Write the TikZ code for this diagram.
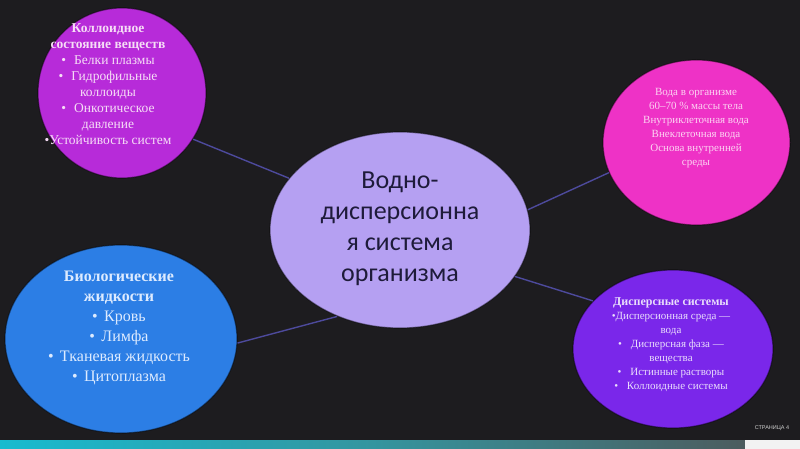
\documentclass[tikz,border=0pt]{standalone}
\usepackage{fontspec}
\setmainfont{Liberation Serif}
\newfontfamily\centerfont{Carlito}
\newfontfamily\pagefont{Liberation Sans}
\usetikzlibrary{shapes.geometric}
\definecolor{bgc}{HTML}{1D1C1F}
\definecolor{tlc}{HTML}{B72BD9}
\definecolor{cc}{HTML}{B5A0F2}
\definecolor{trc}{HTML}{EE32C6}
\definecolor{brc}{HTML}{7A27EA}
\definecolor{blc}{HTML}{2C7EE5}
\definecolor{linkc}{HTML}{4D4A9C}
\definecolor{tltext}{HTML}{F6DDF6}
\definecolor{trtext}{HTML}{FCD3F2}
\definecolor{brtext}{HTML}{E9DDFB}
\definecolor{bltext}{HTML}{DDEBFF}
\definecolor{ctext}{HTML}{1E1B3A}
\definecolor{barl}{HTML}{18BBCF}
\definecolor{barm}{HTML}{34959F}
\definecolor{barr}{HTML}{4C5C5E}
\definecolor{barw}{HTML}{F2F2F2}
\definecolor{pagec}{HTML}{D0D0D0}
\tikzset{
  blob/.style={ellipse, inner sep=0pt, draw=black, draw opacity=0.45, line width=1.2pt},
  link/.style={draw=linkc, line width=1.4pt},
  blobtext/.style={align=center, inner sep=0pt},
}
\begin{document}
\begin{tikzpicture}[x=1pt,y=-1pt]
\fill[bgc] (0,0) rectangle (800,449);
\useasboundingbox (0,0) rectangle (800,449);
% bottom bar
\shade[left color=barl, right color=barr, middle color=barm] (0,440) rectangle (745,449);
\fill[barw] (745,440) rectangle (800,449);
% ellipses
\node[blob, fill=tlc, minimum width=168pt, minimum height=170pt] (tl) at (122,93) {};
\node[blob, fill=trc, minimum width=187pt, minimum height=165pt] (tr) at (696.5,142.5) {};
\node[blob, fill=brc, minimum width=200pt, minimum height=158pt] (br) at (673,349) {};
\node[blob, fill=blc, minimum width=232pt, minimum height=188pt] (bl) at (121,339) {};
\node[blob, fill=cc, minimum width=260pt, minimum height=196pt] (c) at (400,230) {};
% connectors
\draw[link] (tl.-33) -- (c.155);
\draw[link] (bl.-2.5) -- (c.-126.8);
\draw[link] (c.9.8) -- (tr.-161.4);
\draw[link] (c.-22) -- (br.149.4);
% texts
\node[blobtext, text=ctext, font=\centerfont\fontsize{26}{31}\selectfont] (ct) at (400,229)
  {Водно-\\дисперсионна\\я система\\организма};
\node[blobtext, text=tltext, font=\fontsize{13.5}{16}\selectfont] (tlt) at (108,84)
  {\textbf{Коллоидное}\\\textbf{состояние веществ}\\•\hspace{0.6em}Белки плазмы\\•\hspace{0.6em}Гидрофильные\\коллоиды\\•\hspace{0.6em}Онкотическое\\давление\\•Устойчивость систем};
\node[blobtext, text=trtext, font=\fontsize{11}{14}\selectfont] (trt) at (696,128)
  {Вода в организме\\60–70 \% массы тела\\Внутриклеточная вода\\Внеклеточная вода\\Основа внутренней\\среды};
\node[blobtext, text=brtext, font=\fontsize{11}{14}\selectfont] (brt) at (671,345)
  {{\fontsize{12}{14}\selectfont\textbf{Дисперсные системы}}\\•Дисперсионная среда —\\вода\\•\hspace{0.8em}Дисперсная фаза —\\вещества\\•\hspace{0.8em}Истинные растворы\\•\hspace{0.8em}Коллоидные системы};
\node[blobtext, text=bltext, font=\fontsize{16}{20}\selectfont] (blt) at (119,328)
  {\textbf{Биологические}\\\textbf{жидкости}\\•\hspace{0.4em}Кровь\\•\hspace{0.4em}Лимфа\\•\hspace{0.4em}Тканевая жидкость\\•\hspace{0.4em}Цитоплазма};
\node[text=pagec, inner sep=0pt, font=\pagefont\fontsize{5.5}{6}\selectfont] (page) at (772,428) {СТРАНИЦА 4};
\end{tikzpicture}
\end{document}
